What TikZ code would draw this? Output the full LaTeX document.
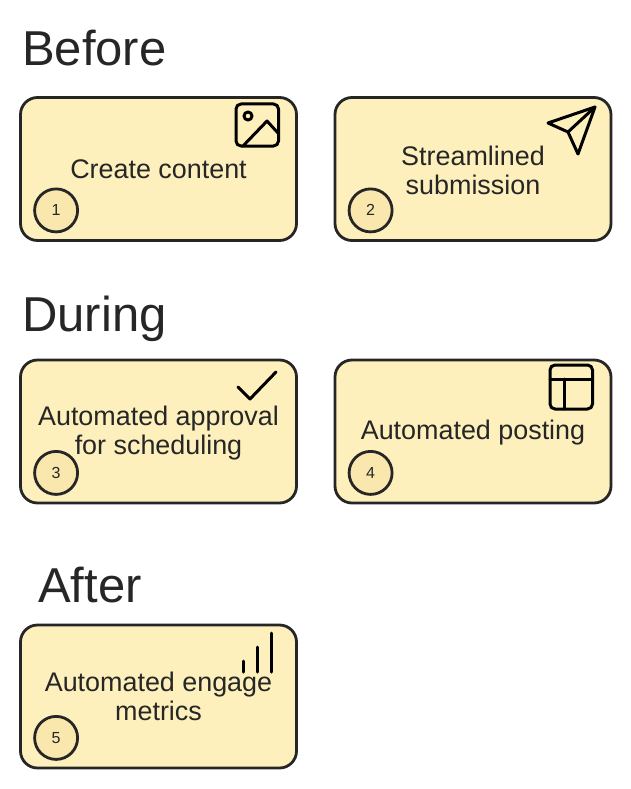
\documentclass[tikz,border=0pt]{standalone}
\usepackage{fontspec}
\setmainfont{Liberation Sans}
\definecolor{inkdark}{HTML}{262626}
\definecolor{cardfill}{HTML}{FEF0BC}
\definecolor{badgefill}{HTML}{F9E7AD}
\tikzset{
    card/.style={draw=inkdark, fill=cardfill, line width=2.8pt, rounded corners=17pt, minimum width=276pt, minimum height=143pt, inner sep=0pt},
    badge/.style={circle, draw=inkdark, fill=badgefill, line width=2.8pt, minimum size=43pt, inner sep=0pt, text=inkdark, font=\fontsize{16}{16}\selectfont},
    cardtext/.style={align=center, text=inkdark, font=\fontsize{26.9}{29}\selectfont},
    heading/.style={anchor=base west, inner sep=0pt, text=inkdark, font=\fontsize{49}{49}\selectfont},
    icon/.style={draw=black, line width=3pt, line join=round, line cap=round},
}
\begin{document}
\begin{tikzpicture}[x=1pt, y=-1pt]
        \useasboundingbox (0, 0) rectangle (631, 789);
        \foreach \x/\y/\n in {22/66/Before, 22/331/During, 38/602/After}
        \node[heading] (head\n) at (\x, \y) {\n};
        \foreach \x/\y/\z/\n/\t in {158.5/169/169/1/Create content, 473/169/170/2/Streamlined\\submission, 158.5/431.5/433.5/3/Automated approval\\for scheduling, 473/431.5/433/4/Automated posting, 158.5/696.5/696.5/5/Automated engage\\metrics}{
        \node[card] (card\n) at (\x, \y) {};
        \node[cardtext] (label\n) at (\x, \z) {\t};
        \node[badge] (badge\n) at ([xshift=37pt, yshift=31.5pt]card\n.south west) {\n};}
        % image
        \draw[icon, rounded corners=5pt] (236, 104) rectangle (278.5, 146);
        \draw[icon] (248, 116) circle (4);
        \draw[icon] (243, 146) -- (267, 121) -- (278, 133);
        % send
        \draw[icon] (595, 107) -- (548, 123) -- (568, 132) -- (578, 154) -- cycle;
        \draw[icon] (568, 132) -- (595, 107);
        % check
        \draw[icon] (238, 387) -- (250, 399) -- (276, 372);
        % layout
        \draw[icon, rounded corners=5pt] (550, 365) rectangle (592.5, 409);
        \draw[icon] (550, 379) -- (592.5, 379);
        \draw[icon] (564, 379) -- (564, 409);
        % bars
        \foreach \x/\y in {243/661, 257/647, 271/633}
        \draw[icon] (\x, 672) -- (\x, \y);
\end{tikzpicture}
\end{document}
